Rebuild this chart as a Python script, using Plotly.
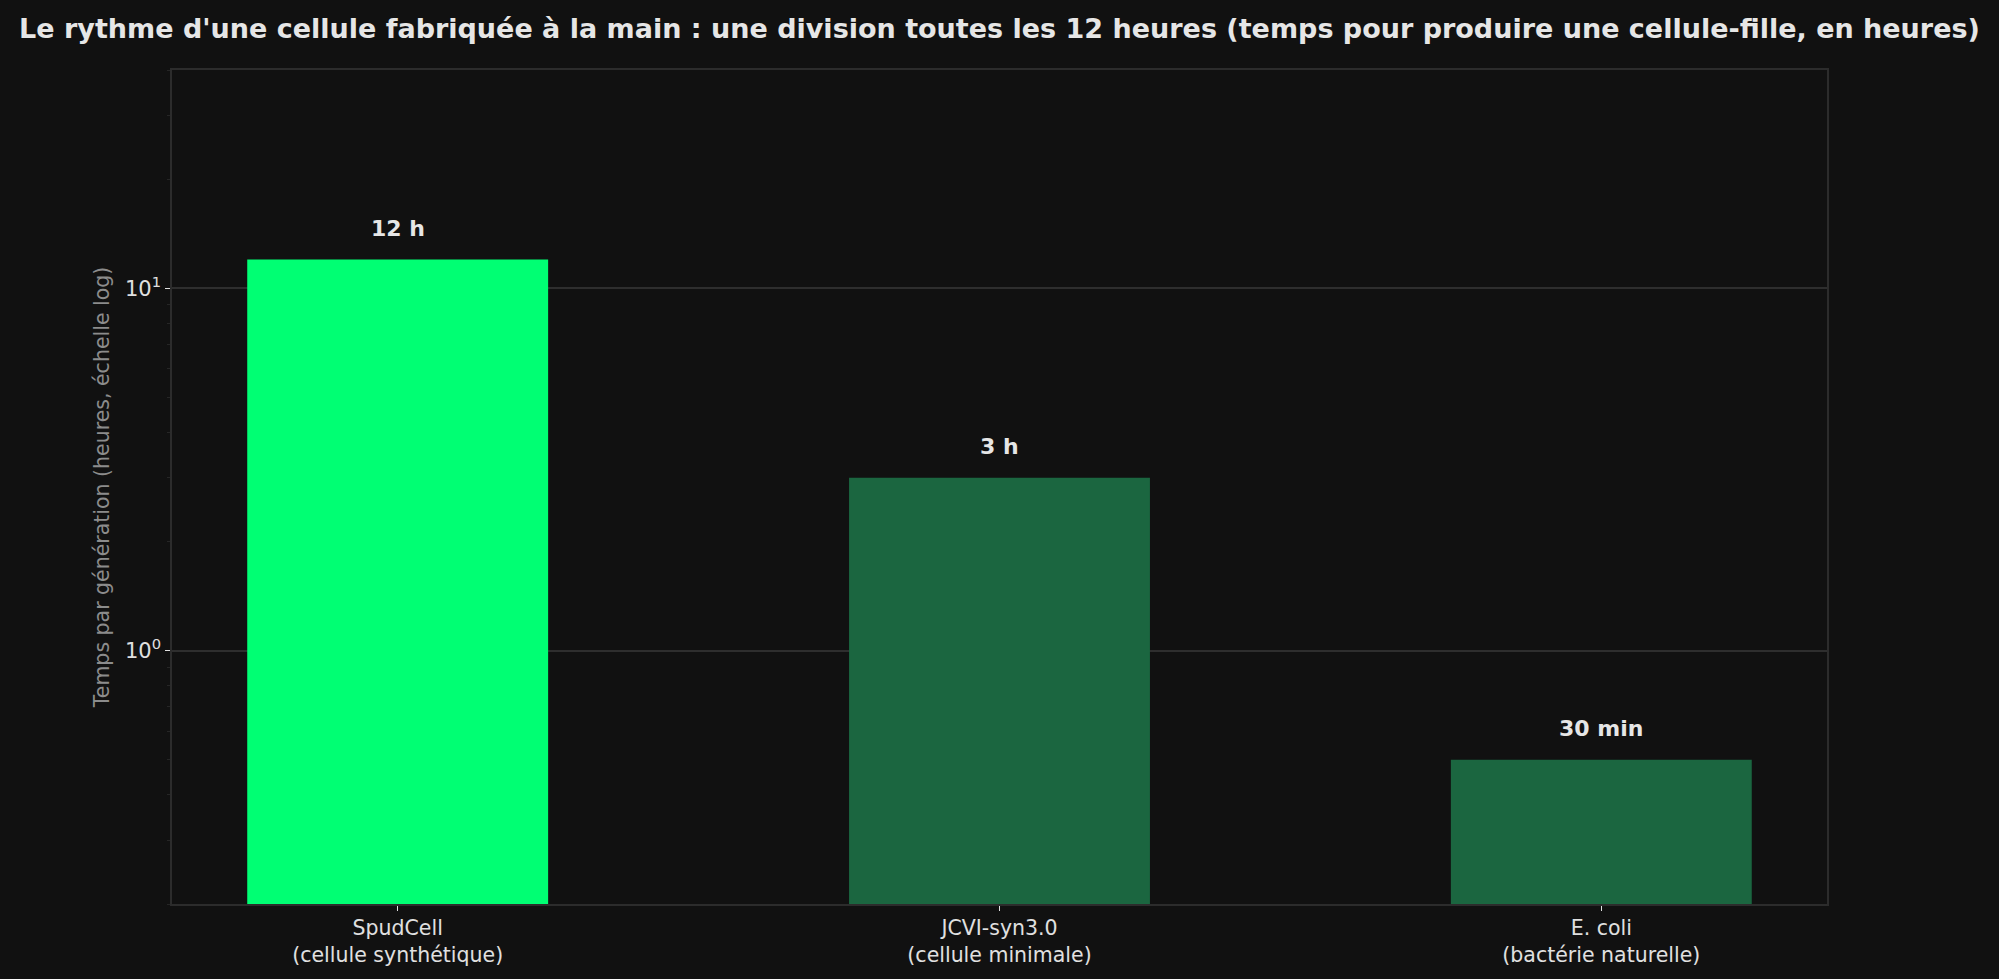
import math
import plotly.graph_objects as go

categories = ["SpudCell<br>(cellule synthétique)", "JCVI-syn3.0<br>(cellule minimale)", "E. coli<br>(bactérie naturelle)"]
hours = [12, 3, 0.5]
labels = ["12 h", "3 h", "30 min"]
colors = ["#00FF73", "#1B6640", "#1B6640"]

title = "Le rythme d'une cellule fabriquée à la main : une division toutes les 12 heures (temps pour produire une cellule-fille, en heures)"
ytitle = "Temps par génération (heures, échelle log)"

FONT = "DejaVu Sans"
BG = "#111111"
SPINE = "#2c2c2c"

fig = go.Figure()
fig.add_trace(go.Bar(
    x=list(range(len(categories))), y=hours, width=0.5,
    marker=dict(color=colors, line=dict(width=0)),
    hoverinfo="skip",
))

for i, (v, lab) in enumerate(zip(hours, labels)):
    fig.add_annotation(x=i, y=math.log10(v), yref="y", xref="x", text="<b>" + lab + "</b>",
                       showarrow=False, yanchor="bottom", yshift=17,
                       font=dict(family=FONT, size=22, color="#e6e6e6"))

fig.update_layout(
    width=1999, height=979,
    paper_bgcolor=BG, plot_bgcolor=BG,
    margin=dict(l=172, r=172, t=70, b=75),
    showlegend=False,
    title=dict(text="<b>" + title + "</b>", x=0.5, xanchor="center", y=0.971, yanchor="middle",
               font=dict(family=FONT, size=27, color="#e6e6e6")),
    font=dict(family=FONT, color="#e0e0e0"),
    xaxis=dict(
        range=[-0.375, 2.375], tickmode="array", tickvals=list(range(len(categories))),
        ticktext=categories, showgrid=False, zeroline=False,
        showline=True, linecolor=SPINE, linewidth=1.5, mirror=True,
        ticks="outside", ticklen=5, tickcolor="#e0e0e0", tickwidth=1,
        tickfont=dict(family=FONT, size=20.5, color="#e0e0e0"),
    ),
    yaxis=dict(
        type="log", range=[-0.69897, 1.60206],
        tickmode="array", tickvals=[1, 10], ticktext=["10<sup>0</sup>", "10<sup>1</sup>"],
        showgrid=True, gridcolor="#2e2e2e", gridwidth=1.5, zeroline=False,
        showline=True, linecolor=SPINE, linewidth=1.5, mirror=True,
        ticks="outside", ticklen=5, tickcolor="#e0e0e0", tickwidth=1,
        tickfont=dict(family=FONT, size=21, color="#e0e0e0"),
        minor=dict(tickvals=[0.2, 0.3, 0.4, 0.5, 0.6, 0.7, 0.8, 0.9, 2, 3, 4, 5, 6, 7, 8, 9, 20, 30, 40],
                   ticks="outside", ticklen=3, tickcolor="#262626", showgrid=False),
        title=dict(text=ytitle, font=dict(family=FONT, size=20.5, color="#8c8c8c"), standoff=10),
    ),
)

fig.write_html("out.html")
